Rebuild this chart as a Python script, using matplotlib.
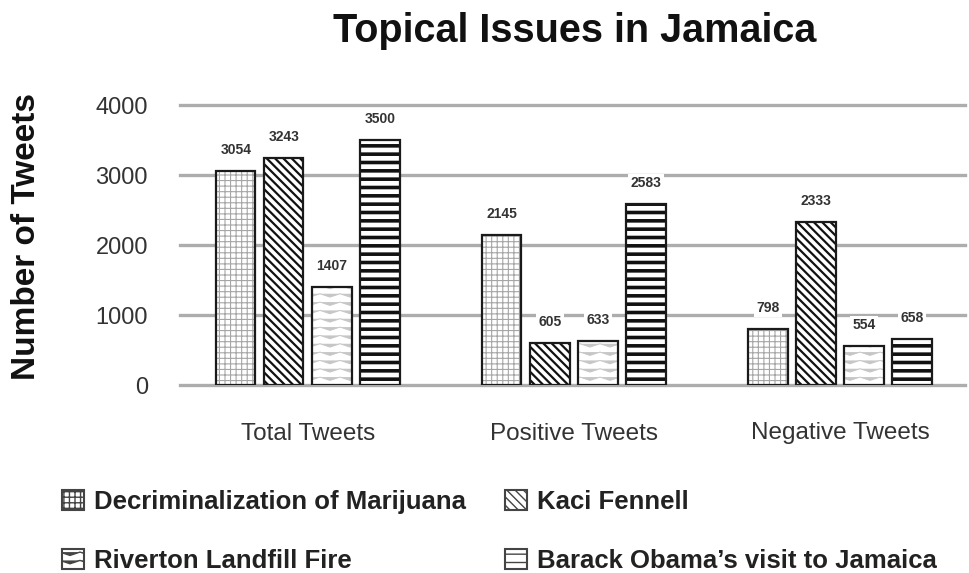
import warnings
warnings.filterwarnings("ignore")
import matplotlib
matplotlib.use("Agg")
import matplotlib.pyplot as plt
import matplotlib.hatch as mhatch
import numpy as np
from matplotlib.path import Path
from matplotlib.patches import Patch

plt.rcParams['font.family'] = ['Liberation Sans', 'DejaVu Sans']


class ZigzagHatch(mhatch.HatchPatternBase):
    """Chevron / zigzag hatch, selected with the character 'z'."""
    def __init__(self, hatch, density):
        self.num_rows = hatch.count('z') * 6
        self.num_v = 5
        self.num_vertices = self.num_rows * (2 * self.num_v + 1)
        self.filled = False

    def set_vertices_and_codes(self, vertices, codes):
        n = self.num_rows
        npts = 2 * self.num_v + 1
        xs = np.linspace(0, 1, npts)
        for k in range(n):
            y_hi = (k + 0.75) / n
            y_lo = (k + 0.35) / n
            ys = np.where(np.arange(npts) % 2 == 0, y_hi, y_lo)
            sl = slice(k * npts, (k + 1) * npts)
            vertices[sl, 0] = xs
            vertices[sl, 1] = ys
            codes[sl] = Path.LINETO
            codes[k * npts] = Path.MOVETO


mhatch._hatch_types.append(ZigzagHatch)

categories = ["Total Tweets", "Positive Tweets", "Negative Tweets"]
series_names = ["Decriminalization of Marijuana", "Kaci Fennell",
                "Riverton Landfill Fire", "Barack Obama\u2019s visit to Jamaica"]
marijuana = [3054, 2145, 798]
kaci = [3243, 605, 2333]
riverton = [1407, 633, 554]
obama = [3500, 2583, 658]
yticks = [0, 1000, 2000, 3000, 4000]

series = [marijuana, kaci, riverton, obama]
hatches = ['+++', '\\\\\\\\', 'zz', '--']
hatch_colors = ['#a6a6a6', '#111111', '#c6c6c6', '#111111']
hatch_lws = [0.8, 1.6, 0.7, 2.6]

fig = plt.figure(figsize=(9.69, 5.73), dpi=100)
ax = fig.add_axes([180 / 969, 188 / 573, 785 / 969, 280 / 573])

x = np.arange(len(categories))
step = 0.1805
width = 0.147
offsets = (np.arange(4) - 1.5) * step

for i, vals in enumerate(series):
    with plt.rc_context({'hatch.linewidth': hatch_lws[i], 'hatch.color': hatch_colors[i]}):
        ax.bar(x + offsets[i], vals, width, color='white', edgecolor=hatch_colors[i],
               hatch=hatches[i], linewidth=0, zorder=3)
    ax.bar(x + offsets[i], vals, width, facecolor='none', edgecolor='#1a1a1a',
           linewidth=1.6, zorder=4)
    for xi, v in zip(x + offsets[i], vals):
        ax.annotate(str(v), (xi, v), xytext=(0, 10), textcoords='offset points',
                    ha='center', va='bottom', fontsize=10, fontweight='bold', color='#333333',
                    bbox=dict(boxstyle='square,pad=0.15', fc='white', ec='none'), zorder=5)

ax.set_ylim(0, 4000)
ax.set_xlim(-0.481, 2.47)
ax.set_yticks(yticks)
ax.set_yticklabels([str(t) for t in yticks], fontsize=17, color='#333333')
ax.set_xticks(x)
ax.set_xticklabels(categories, fontsize=17.5, color='#333333')
ax.tick_params(length=0)
ax.tick_params(axis='y', pad=23)
ax.tick_params(axis='x', pad=27)
for s in ax.spines.values():
    s.set_visible(False)
ax.yaxis.grid(True, color='#adadad', linewidth=2.4, zorder=0)
for ln in ax.get_ygridlines():
    ln.set_clip_on(False)
ax.set_axisbelow(True)
ax.set_ylabel("Number of Tweets", fontsize=24, fontweight='bold', color='#111111')
ax.yaxis.set_label_coords(-0.176, 0.532)

fig.text(0.593, 0.946, "Topical Issues in Jamaica", ha='center', va='center',
         fontsize=28.5, fontweight='bold', color='#111111')

handles = []
for i in range(4):
    with plt.rc_context({'hatch.linewidth': 0.9}):
        handles.append(Patch(facecolor='white', edgecolor='#444444', hatch=hatches[i], linewidth=1.5))
order = [0, 2, 1, 3]
leg = fig.legend([handles[j] for j in order], [series_names[j] for j in order],
                 ncol=2, loc='upper left', bbox_to_anchor=(62 / 969, 1 - 490 / 573), frameon=False,
                 handlelength=0.85, handleheight=0.85, handletextpad=0.4,
                 borderpad=0, borderaxespad=0,
                 columnspacing=1.5, labelspacing=1.35, prop={'weight': 'bold', 'size': 18.5})
for t in leg.get_texts():
    t.set_color('#222222')

fig.savefig("out.png", dpi=100, facecolor='white')
